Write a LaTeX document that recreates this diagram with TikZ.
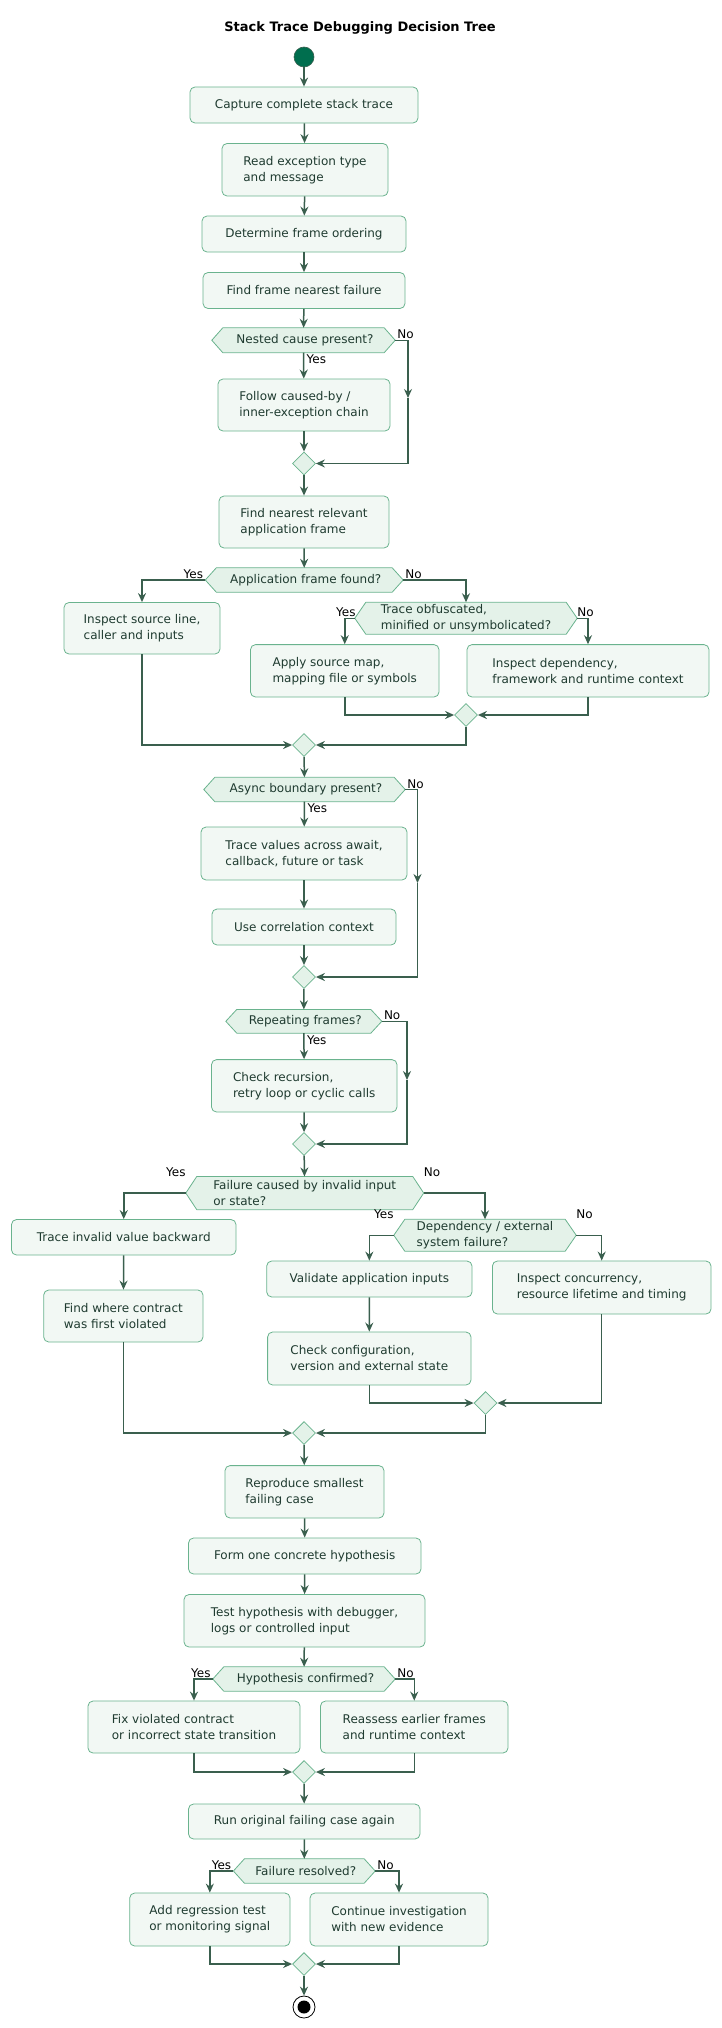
\documentclass[tikz,border=0pt]{standalone}
\usepackage{fontspec}
\setmainfont{DejaVu Sans}
\usetikzlibrary{arrows.meta,shapes.geometric,backgrounds}
\definecolor{boxfill}{HTML}{F2F8F4}
\definecolor{boxline}{HTML}{6AB38E}
\definecolor{decfill}{HTML}{E4F2E9}
\definecolor{arrowc}{HTML}{3A5F4E}
\definecolor{txt}{HTML}{1F3B30}
\definecolor{startc}{HTML}{006E4E}
\tikzset{
  box/.style={draw=boxline, fill=boxfill, rounded corners=5pt, line width=0.8pt, align=left, text=txt, font=\fontsize{12}{16}\selectfont, inner sep=0pt},
  dec/.style={align=left, text=txt, font=\fontsize{12}{16}\selectfont, inner sep=0pt},
  decshape/.style={draw=boxline, fill=decfill, line width=0.8pt},
  mrg/.style={diamond, draw=boxline, fill=decfill, line width=0.8pt, minimum width=23pt, minimum height=23pt, inner sep=0pt},
  conn/.style={draw=arrowc, line width=1.5pt, -{Stealth[length=9pt,width=8pt,inset=3pt]}},
  plain/.style={draw=arrowc, line width=1.5pt},
  lbl/.style={font=\fontsize{12}{14}\selectfont, text=black, inner sep=1pt}
}
\newcommand\bx[6]{\node[box, minimum width={#3-#2}, minimum height={#5-#4}] (#1) at ({(#2+#3)/2},{(#4+#5)/2}) {#6};}
\newcommand\dc[6]{\node[dec, minimum width={#3-#2}, minimum height={#5-#4}] (#1) at ({(#2+#3)/2},{(#4+#5)/2}) {#6};
  \begin{scope}[on background layer]\path[decshape] (#1.west) -- ([xshift=11pt]#1.north west) -- ([xshift=-11pt]#1.north east) -- (#1.east) -- ([xshift=-11pt]#1.south east) -- ([xshift=11pt]#1.south west) -- cycle;\end{scope}}
\begin{document}
\begin{tikzpicture}[x=1pt,y=-1pt]
\useasboundingbox (0,0) rectangle (721,2028);
\node[font=\bfseries\fontsize{13}{15}\selectfont] (title) at (360,28) {Stack Trace Debugging Decision Tree};
\node[circle, fill=startc, draw=arrowc, line width=0.6pt, minimum size=20pt, inner sep=0pt] (start) at (304,57) {};
\bx{b1}{190}{418}{87}{123}{Capture complete stack trace}
\bx{b2}{222}{388}{143.5}{196}{Read exception type\\and message}
\bx{b3}{202}{406}{216}{252}{Determine frame ordering}
\bx{b4}{203}{405}{272.5}{308.5}{Find frame nearest failure}
\dc{d1}{212}{395}{328}{352.5}{\hspace*{3pt}Nested cause present?}
\bx{b5}{218}{390}{379}{431}{Follow caused-by /\\inner-exception chain}
\node[mrg] (m1) at (304,463.5) {};
\bx{b6}{219}{389}{496}{548}{Find nearest relevant\\application frame}
\dc{d2}{205.5}{403}{568}{592}{\hspace*{3pt}Application frame found?}
\bx{b7}{64}{220}{602.5}{654}{Inspect source line,\\caller and inputs}
\dc{d3}{355}{577}{602.5}{634}{Trace obfuscated,\hspace*{40pt}\\minified or unsymbolicated?}
\bx{b8}{250.5}{439}{644.6}{697}{Apply source map,\\mapping file or symbols}
\bx{b9}{467}{709}{644.6}{697}{Inspect dependency,\\framework and runtime context}
\node[mrg] (m3) at (466,715) {};
\node[mrg] (m2) at (304,745) {};
\dc{d4}{204}{405}{777.5}{801.5}{\hspace*{3pt}Async boundary present?}
\bx{b10}{201}{407}{827}{880}{Trace values across await,\\callback, future or task}
\bx{b11}{212}{396}{909}{945}{Use correlation context}
\node[mrg] (m4) at (304,977) {};
\dc{d5}{226}{381.6}{1009.6}{1033}{\hspace*{3pt}Repeating frames?}
\bx{b12}{211.5}{397}{1059.6}{1112}{Check recursion,\\retry loop or cyclic calls}
\node[mrg] (m5) at (304,1144) {};
\dc{d6}{186}{423.5}{1176.6}{1209.5}{Failure caused by invalid input\\or state?\hspace*{116pt}}
\bx{b13}{11.5}{236}{1219.5}{1255}{Trace invalid value backward}
\bx{b14}{43.7}{203}{1290}{1342}{Find where contract\\was first violated}
\dc{d7}{394}{576}{1219.5}{1251}{Dependency / external\\system failure?\hspace*{42pt}}
\bx{b15}{266.7}{472}{1261}{1297}{Validate application inputs}
\bx{b16}{267.6}{471}{1332}{1385}{Check configuration,\\version and external state}
\bx{b17}{492.4}{711}{1261}{1314}{Inspect concurrency,\\resource lifetime and timing}
\node[mrg] (m7) at (485.5,1403) {};
\node[mrg] (m6) at (304,1433) {};
\bx{b18}{225}{384}{1465.6}{1518}{Reproduce smallest\\failing case}
\bx{b19}{188.5}{421}{1538}{1574}{Form one concrete hypothesis}
\bx{b20}{184}{425}{1594.5}{1647}{Test hypothesis with debugger,\\logs or controlled input}
\dc{d8}{213}{395}{1667}{1691}{\hspace*{3pt}Hypothesis confirmed?}
\bx{b21}{88}{300}{1701}{1753}{Fix violated contract\\or incorrect state transition}
\bx{b22}{320.5}{508}{1701}{1753}{Reassess earlier frames\\and runtime context}
\node[mrg] (m8) at (304,1772) {};
\bx{b23}{188.5}{420}{1804}{1839}{Run original failing case again}
\dc{d9}{233.6}{375}{1859}{1883}{\hspace*{3pt}Failure resolved?}
\bx{b24}{129.7}{290}{1893}{1946}{Add regression test\\or monitoring signal}
\bx{b25}{310}{488}{1893}{1946}{Continue investigation\\with new evidence}
\node[mrg] (m9) at (304,1964) {};
\node[circle, draw=black, fill=white, line width=0.8pt, minimum size=22pt, inner sep=0pt] (endc) at (304,2007) {};
\node[circle, fill=black, minimum size=13pt, inner sep=0pt] (endd) at (endc.center) {};
% connectors
\draw[conn] (start) -- (b1);
\draw[conn] (b1) -- (b2);
\draw[conn] (b2) -- (b3);
\draw[conn] (b3) -- (b4);
\draw[conn] (b4) -- (d1);
\draw[conn] (d1) -- (b5);
\draw[conn] (b5) -- (m1);
\coordinate (c1) at (408,398);
\draw[conn] (d1.east) -| (c1);
\draw[conn] (c1) |- (m1.east);
\draw[conn] (m1) -- (b6);
\draw[conn] (b6) -- (d2);
\draw[conn] (d2.west) -| (b7.north);
\draw[conn] (d2.east) -| (d3.north);
\draw[conn] (d3.west) -| (b8.north);
\draw[conn] (d3.east) -| (b9.north);
\draw[conn] (b8.south) |- (m3.west);
\draw[conn] (b9.south) |- (m3.east);
\draw[conn] (b7.south) |- (m2.west);
\draw[conn] (m3.south) |- (m2.east);
\draw[conn] (m2) -- (d4);
\draw[conn] (d4) -- (b10);
\draw[conn] (b10) -- (b11);
\draw[conn] (b11) -- (m4);
\coordinate (c2) at (417.5,883);
\draw[conn] (d4.east) -| (c2);
\draw[conn] (c2) |- (m4.east);
\draw[conn] (m4) -- (d5);
\draw[conn] (d5) -- (b12);
\draw[conn] (b12) -- (m5);
\coordinate (c3) at (407,1080);
\draw[conn] (d5.east) -| (c3);
\draw[conn] (c3) |- (m5.east);
\draw[conn] (m5) -- (d6);
\draw[conn] (d6.west) -| (b13.north);
\draw[conn] (d6.east) -| (d7.north);
\draw[conn] (b13) -- (b14);
\draw[conn] (d7.west) -| (b15.north);
\draw[conn] (d7.east) -| (b17.north);
\draw[conn] (b15) -- (b16);
\draw[conn] (b16.south) |- (m7.west);
\draw[conn] (b17.south) |- (m7.east);
\draw[conn] (b14.south) |- (m6.west);
\draw[conn] (m7.south) |- (m6.east);
\draw[conn] (m6) -- (b18);
\draw[conn] (b18) -- (b19);
\draw[conn] (b19) -- (b20);
\draw[conn] (b20) -- (d8);
\draw[conn] (d8.west) -| (b21.north);
\draw[conn] (d8.east) -| (b22.north);
\draw[conn] (b21.south) |- (m8.west);
\draw[conn] (b22.south) |- (m8.east);
\draw[conn] (m8) -- (b23);
\draw[conn] (b23) -- (d9);
\draw[conn] (d9.west) -| (b24.north);
\draw[conn] (d9.east) -| (b25.north);
\draw[conn] (b24.south) |- (m9.west);
\draw[conn] (b25.south) |- (m9.east);
\draw[conn] (m9) -- (endc);
% labels
\node[lbl, anchor=north west] at ([xshift=2pt,yshift=-1pt]d1.south) {Yes};
\node[lbl, anchor=south west] at ([xshift=1pt]d1.east) {No};
\node[lbl, anchor=south east] at ([xshift=-1pt]d2.west) {Yes};
\node[lbl, anchor=south west] at ([xshift=1pt]d2.east) {No};
\node[lbl, anchor=south east] at ([xshift=2pt]d3.west) {Yes};
\node[lbl, anchor=south west] at ([xshift=-1pt]d3.east) {No};
\node[lbl, anchor=north west] at ([xshift=2pt,yshift=-1pt]d4.south) {Yes};
\node[lbl, anchor=south west] at ([xshift=1pt]d4.east) {No};
\node[lbl, anchor=north west] at ([xshift=2pt,yshift=-1pt]d5.south) {Yes};
\node[lbl, anchor=south west] at ([xshift=1pt]d5.east) {No};
\node[lbl, anchor=south east] at ([xshift=1pt,yshift=-1pt]d6.north west) {Yes};
\node[lbl, anchor=south west] at ([xshift=-1pt,yshift=-1pt]d6.north east) {No};
\node[lbl, anchor=south east] at ([xshift=1pt,yshift=-1pt]d7.north west) {Yes};
\node[lbl, anchor=south west] at ([xshift=-1pt,yshift=-1pt]d7.north east) {No};
\node[lbl, anchor=south east] at ([xshift=-1pt]d8.west) {Yes};
\node[lbl, anchor=south west] at ([xshift=1pt]d8.east) {No};
\node[lbl, anchor=south east] at ([xshift=-1pt]d9.west) {Yes};
\node[lbl, anchor=south west] at ([xshift=1pt]d9.east) {No};
\end{tikzpicture}
\end{document}
